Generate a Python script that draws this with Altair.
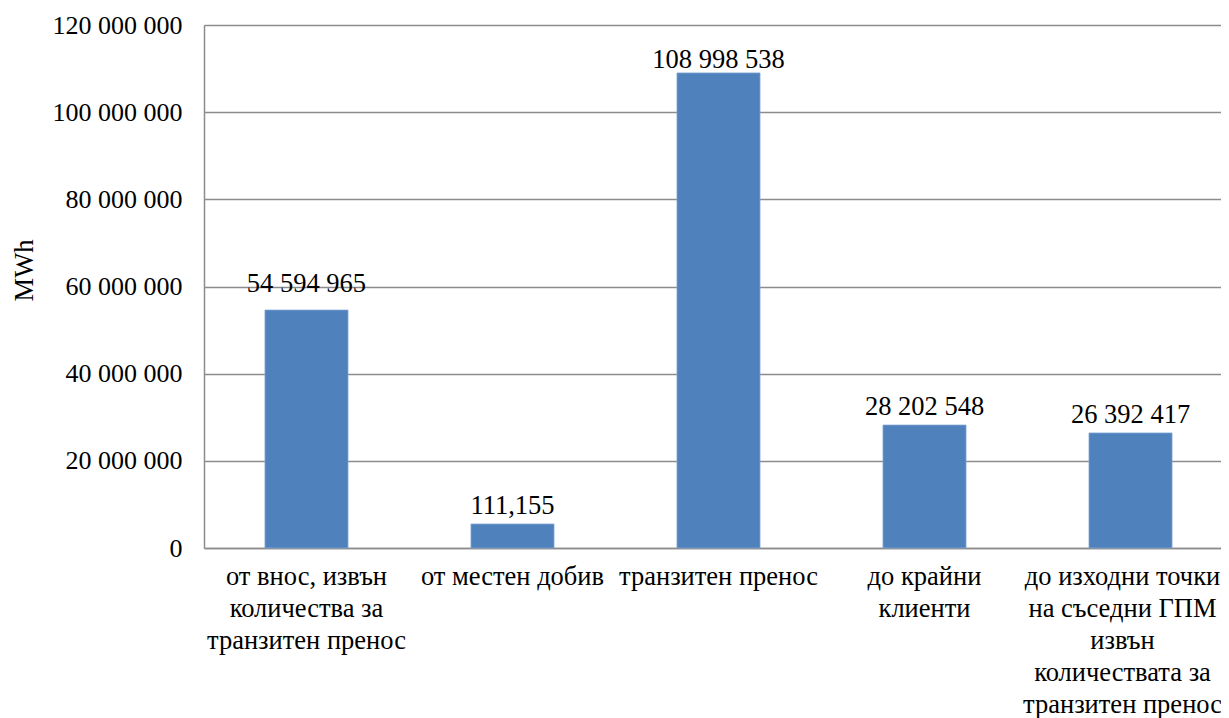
import altair as alt
import pandas as pd

categories = [
    "от внос, извън\nколичества за\nтранзитен пренос",
    "от местен добив",
    "транзитен пренос",
    "до крайни\nклиенти",
    "до изходни точки\nна съседни ГПМ\nизвън\nколичествата за\nтранзитен пренос",
]
values = [54594965, 5500000, 108998538, 28202548, 26392417]
value_labels = ["54 594 965", "111,155", "108 998 538", "28 202 548", "26 392 417"]
y_ticks = [0, 20000000, 40000000, 60000000, 80000000, 100000000, 120000000]

df = pd.DataFrame({"cat": categories, "value": values, "label": value_labels})

FONT = "Liberation Serif, Times New Roman, serif"
GRID = "#8c8c8c"
last_cat = categories[-1].replace("\n", "\\n")

x = alt.X(
    "cat:N",
    sort=categories,
    title=None,
    scale=alt.Scale(range=[0, 1029], paddingInner=0.597, paddingOuter=0.296),
    axis=alt.Axis(
        labelExpr="split(datum.label, '\\n')",
        labelAngle=0,
        labelFont=FONT,
        labelFontSize=26.5,
        labelLineHeight=32,
        labelColor="#000000",
        labelPadding=15,
        labelBaseline="top",
        labelOffset={"condition": {"test": f"datum.label == '{last_cat}'", "value": -8}, "value": 0},
        ticks=False,
        domainColor=GRID,
        domainWidth=1.5,
        labelLimit=0,
    ),
)

y = alt.Y(
    "value:Q",
    title="MWh",
    scale=alt.Scale(domain=[0, 120000000], nice=False),
    axis=alt.Axis(
        values=y_ticks,
        labelExpr="replace(format(datum.value, ',d'), regexp(',', 'g'), ' ')",
        labelFont=FONT,
        labelFontSize=26,
        labelColor="#000000",
        labelPadding=22,
        ticks=False,
        grid=True,
        gridColor=GRID,
        gridWidth=1.5,
        domainColor=GRID,
        domainWidth=1.5,
        titleFont=FONT,
        titleFontSize=26.5,
        titleFontWeight="normal",
        titleColor="#000000",
        titleAngle=-90,
        titleAlign="center",
        titleBaseline="alphabetic",
        titleX=-172,
        titleY=245,
    ),
)

bars = alt.Chart(df).mark_bar(color="#4f81bd", stroke="#7ea3d3", strokeWidth=0.8).encode(x=x, y=y)


def labels(dy, cats):
    return (
        alt.Chart(df)
        .transform_filter(alt.FieldOneOfPredicate(field="cat", oneOf=cats))
        .mark_text(font=FONT, fontSize=26.5, color="#000000", baseline="alphabetic", dy=dy)
        .encode(x=alt.X("cat:N", sort=categories), y="value:Q", text="label:N")
    )


text_a = labels(-18, [categories[0]])
text_b = labels(-10, [categories[1], categories[3], categories[4]])
text_c = labels(-5, [categories[2]])

chart = (
    alt.layer(bars, text_a, text_b, text_c)
    .properties(
        width=1017,
        height=523,
        autosize=alt.AutoSizeParams(type="none"),
        padding={"left": 196, "top": 17, "right": 0, "bottom": 170},
    )
    .configure_view(stroke=None)
    .configure(background="#ffffff")
)

chart.save("out.html", embed_options={"renderer": "svg", "actions": False})
